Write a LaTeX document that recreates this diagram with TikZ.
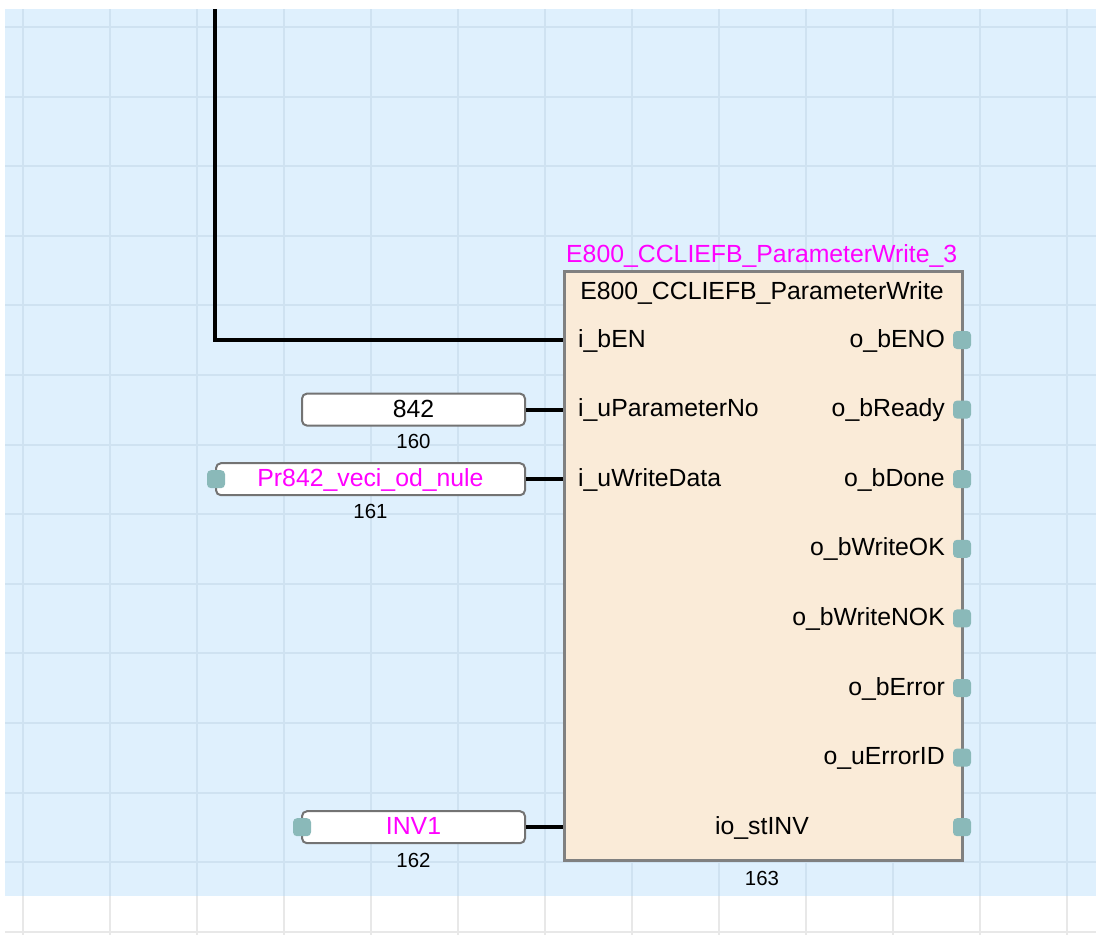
\documentclass[tikz,border=0pt]{standalone}
\usepackage{fontspec}
\setmainfont{Liberation Sans}
\definecolor{gridbg}{RGB}{223,240,253}
\definecolor{gridln}{RGB}{207,226,241}
\definecolor{fbfill}{RGB}{250,235,216}
\definecolor{pinteal}{RGB}{138,185,185}
\definecolor{varmag}{RGB}{255,0,255}
\begin{document}
\begin{tikzpicture}[x=1pt,y=-1pt,
	every node/.style={font=\fontsize{24.8}{30}\selectfont, inner sep=0pt},
	fbbox/.style={draw=black!50, line width=2.5pt, fill=fbfill, minimum width=398pt, minimum height=589pt},
	constbox/.style={draw=black!55, line width=2pt, fill=white, rounded corners=5pt, minimum height=32pt, text height=15pt, text depth=0pt},
	stub/.style={fill=pinteal, rounded corners=4pt, minimum width=18pt, minimum height=18pt},
	small/.style={font=\fontsize{20.4}{24}\selectfont},
	wire/.style={line width=4pt}]
			\useasboundingbox (0,0) rectangle (1096,935);
			\fill[gridbg] (5,9) rectangle (1096,896);
			\foreach \x in {0,...,12} {
				\draw[gridln, line width=2pt] (23+87*\x,9) -- (23+87*\x,896);
				\draw[black!9, line width=2pt] (23+87*\x,896) -- (23+87*\x,935);
			}
			\foreach \y in {0,...,12} \draw[gridln, line width=2pt] (5,27+69.6*\y) -- (1096,27+69.6*\y);
			\draw[black!9, line width=2pt] (5,931.8) -- (1096,931.8);
			\node[fbbox, anchor=north west] (fb) at (563,270) {};
			\node[anchor=base west, text=varmag] (inst) at (566,262) {E800\_CCLIEFB\_ParameterWrite\_3};
			\node[anchor=base] (fbtype) at (762,299) {E800\_CCLIEFB\_ParameterWrite};
			\node[anchor=base west] (iEN) at (578,347) {i\_bEN};
			\node[anchor=base west] (iParNo) at (578,416.6) {i\_uParameterNo};
			\node[anchor=base west] (iData) at (578,486.2) {i\_uWriteData};
			\foreach \n/\t [count=\k from 0] in {oENO/o\_bENO, oReady/o\_bReady, oDone/o\_bDone, oOK/o\_bWriteOK, oNOK/o\_bWriteNOK, oErr/o\_bError, oErrID/o\_uErrorID} {
				\node[anchor=base east] (\n) at (945,347+69.6*\k) {\t};
				\node[stub] (s\n) at (962,340+69.6*\k) {};
			}
			\node[anchor=base] (ioINV) at (762,834) {io\_stINV};
			\node[stub] (sioINV) at (962,827.2) {};
			\node[anchor=base, small] (n163) at (762,885) {163};
			\node[constbox, minimum width=223pt] (c842) at (413.5,409.6) {842};
			\node[anchor=base, small] (n160) at (413.5,448) {160};
			\node[constbox, minimum width=309pt, text=varmag] (cPr) at (370.5,479.2) {Pr842\_veci\_od\_nule};
			\node[stub] (scPr) at (216,479.2) {};
			\node[anchor=base, small] (n161) at (370.5,518) {161};
			\node[constbox, minimum width=223pt, text=varmag] (cINV) at (413.5,827.2) {INV1};
			\node[stub] (scINV) at (302,827.2) {};
			\node[anchor=base, small] (n162) at (413.5,867) {162};
			\coordinate (enTop) at (215,9);
			\coordinate (inEN) at (563,340);
			\coordinate (inParNo) at (563,409.6);
			\coordinate (inData) at (563,479.2);
			\coordinate (inINV) at (563,827.2);
			\draw[wire] (enTop) |- (inEN);
			\draw[wire] (c842) -- (inParNo);
			\draw[wire] (cPr.east) -- (inData);
			\draw[wire] (cINV.east) -- (inINV);
		\end{tikzpicture}
\end{document}
